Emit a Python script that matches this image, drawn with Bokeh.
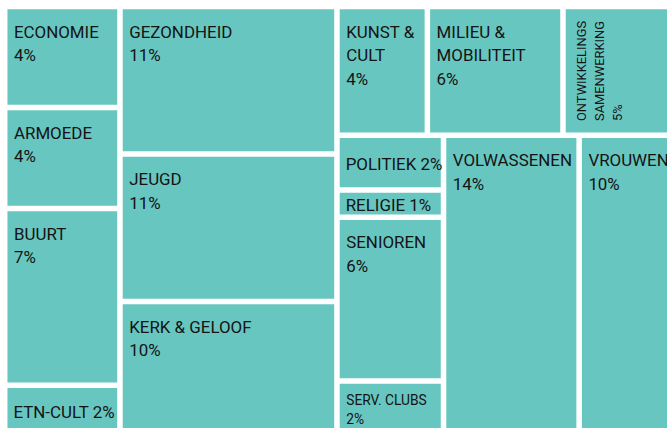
import math
from bokeh.plotting import figure
from bokeh.models import ColumnDataSource, Range1d
from bokeh.embed import file_html
from bokeh.resources import INLINE
from bokeh.core.properties import value

# ---------------- data ----------------
categories = ["ECONOMIE", "ARMOEDE", "BUURT", "ETN-CULT", "GEZONDHEID", "JEUGD",
              "KERK & GELOOF", "KUNST & CULT", "MILIEU & MOBILITEIT",
              "ONTWIKKELINGS SAMENWERKING", "POLITIEK", "RELIGIE", "SENIOREN",
              "SERV. CLUBS", "VOLWASSENEN", "VROUWEN"]
shares = [4, 4, 7, 2, 11, 11, 10, 4, 6, 5, 2, 1, 6, 2, 14, 10]

# label line wrapping (text only)
wraps = {
    "KUNST & CULT": ["KUNST &", "CULT"],
    "MILIEU & MOBILITEIT": ["MILIEU &", "MOBILITEIT"],
    "ONTWIKKELINGS SAMENWERKING": ["ONTWIKKELINGS", "SAMENWERKING"],
}

# ---------------- styling ----------------
FILL = "#68c6c1"
TEXT = "#141414"
FONT = "Roboto"
FONT_SCALE = 0.89          # Roboto is wider than the condensed original
BASELINE_FIX = 0.385       # renderer puts the alphabetic baseline this many em lower
GAP = 5.5
BASE_NS = 19               # nominal label size (geometry)
label_mode = {"ETN-CULT": "inline", "POLITIEK": "inline", "RELIGIE": "inline",
              "ONTWIKKELINGS SAMENWERKING": "rotated"}
label_ns = {"SERV. CLUBS": 15.5, "ONTWIKKELINGS SAMENWERKING": 14.5}

W_PAGE, H_PAGE = 667, 428
# treemap area (screen pixel coordinates, y downward)
AX0, AY0, AW, AH = 4.2, 6.0, 671.3, 429.25


def squarify(vals, x0, y0, x1, y1, ratio=(1 + 5 ** 0.5) / 2):
    n = len(vals)
    rects = [None] * n
    remaining = float(sum(vals))
    i0 = i1 = 0
    while i0 < n:
        dx, dy = x1 - x0, y1 - y0
        s = vals[i1]
        i1 += 1
        mn = mx = s
        alpha = max(dy / dx, dx / dy) / (remaining * ratio)
        beta = s * s * alpha
        min_ratio = max(mx / beta, beta / mn)
        while i1 < n:
            v = vals[i1]
            s2 = s + v
            mn2, mx2 = min(mn, v), max(mx, v)
            beta = s2 * s2 * alpha
            r = max(mx2 / beta, beta / mn2)
            if r > min_ratio:
                break
            s, mn, mx, min_ratio = s2, mn2, mx2, r
            i1 += 1
        if dx < dy:
            ny = y0 + dy * s / remaining if i1 < n else y1
            x = x0
            for i in range(i0, i1):
                w = (x1 - x0) * vals[i] / s
                rects[i] = (x, y0, x + w, ny)
                x += w
            y0 = ny
        else:
            nx = x0 + dx * s / remaining if i1 < n else x1
            y = y0
            for i in range(i0, i1):
                h = (y1 - y0) * vals[i] / s
                rects[i] = (x0, y, nx, y + h)
                y += h
            x0 = nx
        remaining -= s
        i0 = i1
    return rects


rects = squarify(shares, AX0, AY0, AX0 + AW, AY0 + AH)
L = [r[0] + GAP / 2 for r in rects]
T = [r[1] + GAP / 2 for r in rects]
R = [r[2] - GAP / 2 for r in rects]
B = [r[3] - GAP / 2 for r in rects]

rect_src = ColumnDataSource(dict(left=L, right=R, top=T, bottom=B, name=categories))

tx, ty, tt, tfs, ta = [], [], [], [], []
for i, name in enumerate(categories):
    pct = f"{shares[i]}%"
    mode = label_mode.get(name, "stack")
    ns = label_ns.get(name, BASE_NS)
    fpx = ns * FONT_SCALE
    fs = f"{fpx:.1f}px"
    fix = BASELINE_FIX * fpx
    cap = 0.716 * ns
    if mode == "inline":
        tx.append(L[i] + 6)
        ty.append((T[i] + B[i]) / 2 + cap / 2 + 1.5 - fix)
        tt.append(f"{name} {pct}")
        tfs.append(fs)
        ta.append(0.0)
    elif mode == "rotated":
        lines = wraps.get(name, [name]) + [pct]
        pitch = 1.25 * ns
        for k, line in enumerate(lines):
            tx.append(L[i] + 10 + cap + k * pitch - fix)
            ty.append(B[i] - 11.5)
            tt.append(line)
            tfs.append(fs)
            ta.append(math.pi / 2)
    else:
        lines = wraps.get(name, [name]) + [pct]
        pitch = 1.24 * ns
        base = T[i] + (1.5 * ns - 13.3) + cap
        for k, line in enumerate(lines):
            tx.append(L[i] + 6.5)
            ty.append(base + k * pitch - fix)
            tt.append(line)
            tfs.append(fs)
            ta.append(0.0)

text_src = ColumnDataSource(dict(x=tx, y=ty, text=tt, fs=tfs, angle=ta))

p = figure(width=W_PAGE, height=H_PAGE, x_range=Range1d(0, W_PAGE), y_range=Range1d(H_PAGE, 0),
           output_backend="svg", toolbar_location=None, min_border=0,
           x_axis_location=None, y_axis_location=None)
p.grid.visible = False
p.outline_line_color = None
p.background_fill_color = "white"
p.border_fill_color = "white"

p.quad(left="left", right="right", top="top", bottom="bottom", source=rect_src,
       fill_color=FILL, line_color=None)
p.text(x="x", y="y", text="text", angle="angle", source=text_src,
       text_font=value(FONT), text_font_size="fs", text_color=TEXT,
       text_align="left", text_baseline="alphabetic")

open("out.html", "w").write(file_html(p, INLINE))
